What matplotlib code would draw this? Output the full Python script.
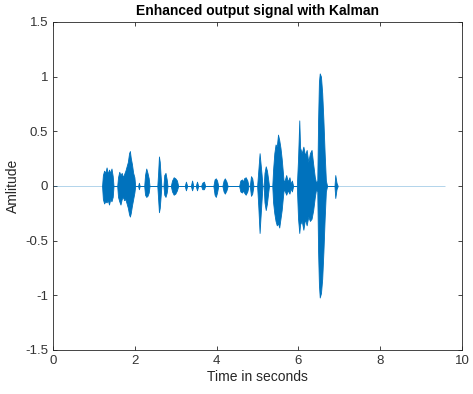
import matplotlib.pyplot as plt
import numpy as np

# envelope of the enhanced signal (time, upper, lower)
env_t = [1.20, 1.22, 1.25, 1.28, 1.31, 1.34, 1.37, 1.40, 1.43, 1.46, 1.48,
         1.57, 1.59, 1.62, 1.65, 1.68, 1.71, 1.74, 1.77, 1.80,
         1.83, 1.86, 1.88, 1.90, 1.93, 1.96, 1.99, 2.01,
         2.08, 2.10, 2.12,
         2.23, 2.25, 2.28, 2.31, 2.34, 2.36,
         2.55, 2.57, 2.59, 2.61, 2.63, 2.65,
         2.70, 2.72, 2.75, 2.78, 2.80,
         2.88, 2.91, 2.95, 2.99, 3.03, 3.06,
         3.22, 3.25, 3.28, 3.37, 3.40, 3.43, 3.49, 3.52, 3.55,
         3.62, 3.65, 3.69, 3.72,
         3.92, 3.95, 3.98, 4.01, 4.04,
         4.14, 4.17, 4.20, 4.24, 4.27,
         4.55, 4.58, 4.62, 4.65, 4.67, 4.71, 4.75, 4.78,
         4.81, 4.84, 4.87, 4.90,
         4.99, 5.02, 5.05, 5.07, 5.10, 5.12,
         5.15, 5.17, 5.20, 5.23, 5.26, 5.28,
         5.36, 5.38, 5.41, 5.44, 5.47, 5.50, 5.53, 5.56, 5.59, 5.62, 5.64,
         5.67, 5.70, 5.74, 5.78, 5.81, 5.84, 5.87,
         5.96, 5.99, 6.02, 6.04, 6.08, 6.12, 6.16, 6.20, 6.24, 6.28, 6.32, 6.36, 6.40, 6.43,
         6.46, 6.48, 6.50, 6.52, 6.55, 6.58, 6.61, 6.64, 6.67, 6.70,
         6.88, 6.90, 6.93, 6.96]
env_hi = [0, 0.10, 0.14, 0.12, 0.17, 0.11, 0.15, 0.12, 0.16, 0.09, 0,
          0, 0.08, 0.13, 0.10, 0.12, 0.08, 0.11, 0.14, 0.18,
          0.22, 0.30, 0.32, 0.26, 0.20, 0.12, 0.08, 0,
          0, 0.03, 0,
          0, 0.10, 0.16, 0.12, 0.07, 0,
          0, 0.12, 0.27, 0.22, 0.10, 0,
          0, 0.10, 0.12, 0.06, 0,
          0, 0.05, 0.08, 0.07, 0.05, 0,
          0, 0.04, 0, 0, 0.05, 0, 0, 0.04, 0,
          0, 0.03, 0.04, 0,
          0, 0.06, 0.07, 0.05, 0,
          0, 0.05, 0.07, 0.04, 0,
          0, 0.05, 0.06, 0.04, 0.07, 0.08, 0.05, 0,
          0, 0.09, 0.07, 0,
          0, 0.15, 0.30, 0.22, 0.10, 0,
          0, 0.12, 0.18, 0.14, 0.06, 0,
          0, 0.15, 0.30, 0.38, 0.36, 0.47, 0.42, 0.35, 0.25, 0.12, 0.03,
          0.06, 0.10, 0.04, 0.08, 0.02, 0.05, 0,
          0, 0.25, 0.60, 0.35, 0.30, 0.36, 0.28, 0.33, 0.22, 0.30, 0.33, 0.20, 0.08, 0.03,
          0.05, 0.60, 0.95, 1.03, 1.00, 0.85, 0.60, 0.30, 0.05, 0,
          0, 0.10, 0.03, 0]
env_lo = [0, -0.12, -0.16, -0.14, -0.15, -0.13, -0.17, -0.12, -0.14, -0.10, 0,
          0, -0.10, -0.14, -0.17, -0.12, -0.10, -0.13, -0.12, -0.16,
          -0.20, -0.26, -0.28, -0.25, -0.18, -0.12, -0.06, 0,
          0, -0.03, 0,
          0, -0.08, -0.10, -0.09, -0.06, 0,
          0, -0.12, -0.24, -0.20, -0.10, 0,
          0, -0.08, -0.10, -0.06, 0,
          0, -0.05, -0.08, -0.07, -0.04, 0,
          0, -0.04, 0, 0, -0.04, 0, 0, -0.04, 0,
          0, -0.03, -0.03, 0,
          0, -0.08, -0.10, -0.06, 0,
          0, -0.05, -0.07, -0.04, 0,
          0, -0.05, -0.06, -0.04, -0.06, -0.08, -0.05, 0,
          0, -0.09, -0.07, 0,
          0, -0.20, -0.43, -0.30, -0.12, 0,
          0, -0.15, -0.22, -0.16, -0.06, 0,
          0, -0.15, -0.25, -0.32, -0.36, -0.34, -0.38, -0.30, -0.22, -0.10, -0.03,
          -0.05, -0.08, -0.04, -0.07, -0.02, -0.05, 0,
          0, -0.30, -0.43, -0.35, -0.32, -0.40, -0.30, -0.36, -0.28, -0.32, -0.30, -0.22, -0.10, -0.03,
          -0.05, -0.60, -0.90, -1.02, -0.98, -0.85, -0.60, -0.30, -0.05, 0,
          0, -0.11, -0.03, 0]

noise_start = 0.0
noise_end = 9.58

blue = '#0072BD'
plt.rcParams['font.family'] = ['Liberation Sans', 'DejaVu Sans']

fig = plt.figure(figsize=(4.73, 3.94), dpi=100)
ax = fig.add_axes([0.112, 0.1117, 0.865, 0.8325])

ax.hlines(0, noise_start, noise_end, color=blue, lw=0.7, alpha=0.3)
ax.fill_between(env_t, env_lo, env_hi, color=blue, lw=0.6, edgecolor=blue)

ax.set_xlim(0, 10)
ax.set_ylim(-1.5, 1.5)
ax.set_xticks(np.arange(0, 11, 2))
ax.set_yticks([-1.5, -1, -0.5, 0, 0.5, 1, 1.5])
ax.set_yticklabels(['-1.5', '-1', '-0.5', '0', '0.5', '1', '1.5'])
ax.tick_params(direction='in', top=True, right=True, length=3, width=0.6,
               colors='#262626', labelsize=9.5, labelcolor='#333333')
for s in ax.spines.values():
    s.set_color('#262626')
    s.set_linewidth(0.6)

ax.set_xlabel('Time in seconds', fontsize=10, color='#262626', labelpad=2)
ax.set_ylabel('Amlitude', fontsize=10, color='#262626', labelpad=4)
ax.set_title('Enhanced output signal with Kalman', fontsize=10,
             fontweight='bold', color='black', pad=5)

fig.savefig('out.png', dpi=100)
